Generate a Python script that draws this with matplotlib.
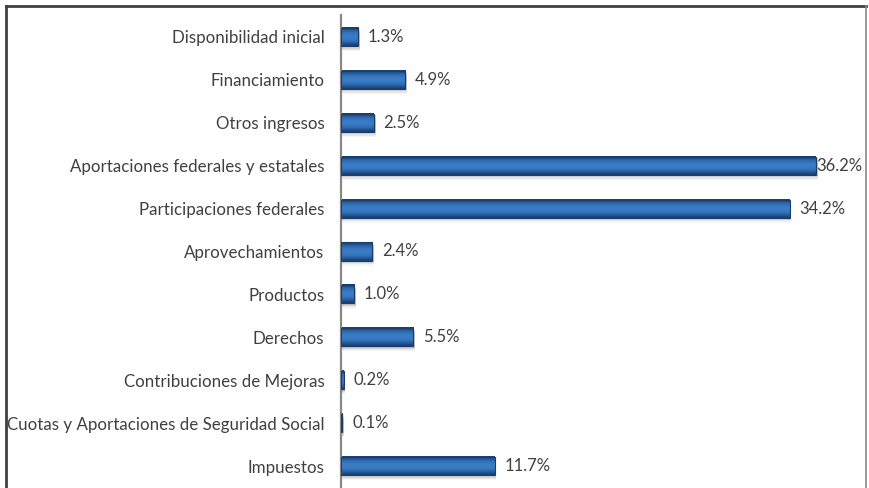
import matplotlib.pyplot as plt
import numpy as np
from matplotlib.patches import Rectangle
from matplotlib.lines import Line2D

plt.rcParams['font.family'] = ['Lato', 'DejaVu Sans']

# income sources, bottom to top as drawn
categories = [
    "Impuestos",
    "Cuotas y Aportaciones de Seguridad Social",
    "Contribuciones de Mejoras",
    "Derechos",
    "Productos",
    "Aprovechamientos",
    "Participaciones federales",
    "Aportaciones federales y estatales",
    "Otros ingresos",
    "Financiamiento",
    "Disponibilidad inicial",
]
shares = [11.7, 0.1, 0.2, 5.5, 1.0, 2.4, 34.2, 36.2, 2.5, 4.9, 1.3]

W, H = 870, 488
fig = plt.figure(figsize=(W / 100, H / 100), dpi=100)
ax = fig.add_axes([341 / W, 0.5 / H, (862 - 341) / W, (472.5 - 0.5) / H])

xmax = (862 - 341) / 13.12

bar_h = 0.42
# vertical shading of each bar: dark edges, lighter middle
grad = np.array([0.0, 0.45, 0.75, 0.9, 0.95, 0.9, 0.75, 0.45, 0.0])
dark = np.array([0x18, 0x40, 0x74]) / 255
light = np.array([0x3c, 0x80, 0xcc]) / 255
rgb = dark[None, :] + grad[:, None] * (light - dark)[None, :]
img = rgb[:, None, :]

for i, v in enumerate(shares):
    # soft shadow under the bar
    for k, a in enumerate([0.10, 0.08, 0.06, 0.04]):
        off = 0.03 + k * 0.03
        ax.add_patch(Rectangle((0.05, i - bar_h / 2 - off), v + 0.08, bar_h,
                               facecolor='black', alpha=a, edgecolor='none', zorder=1))
    ax.imshow(img, extent=[0, v, i - bar_h / 2, i + bar_h / 2], aspect='auto',
              interpolation='bicubic', zorder=2.5)
    ax.barh(i, v, height=bar_h, facecolor='none', edgecolor='#1a3d6a',
            linewidth=0.8, zorder=3)
    # labels that would run past the frame sit tight against the bar end
    gap = 0.75 if v + 4.3 < xmax else 0.05
    ax.text(v + gap, i, f"{v:.1f}%", va='center', ha='left',
            fontsize=12, color='#404040', zorder=4, clip_on=False)

ax.set_xlim(0, xmax)
ax.set_ylim(-0.5, len(categories) - 0.5)
ax.set_yticks(range(len(categories)))
ax.set_yticklabels(categories, fontsize=12.2, color='#404040')
ax.tick_params(axis='y', length=0, pad=12)
ax.set_xticks([])
for side in ['top', 'right', 'bottom']:
    ax.spines[side].set_visible(False)
ax.spines['left'].set_color('#888888')
ax.spines['left'].set_linewidth(1.6)
ax.spines['left'].set_bounds(-0.6, len(categories) - 0.5 + 0.02)

# outer frame around the chart area
fig.add_artist(Line2D([6 / W, 866 / W], [1 - 6 / H, 1 - 6 / H], color='#404040',
                      linewidth=2, transform=fig.transFigure))
fig.add_artist(Line2D([6 / W, 6 / W], [1 - 6 / H, 0], color='#404040',
                      linewidth=2, transform=fig.transFigure))
fig.add_artist(Line2D([866 / W, 866 / W], [1 - 6 / H, 0], color='#8a8a8a',
                      linewidth=1.2, transform=fig.transFigure))

fig.savefig('out.png', dpi=100)
